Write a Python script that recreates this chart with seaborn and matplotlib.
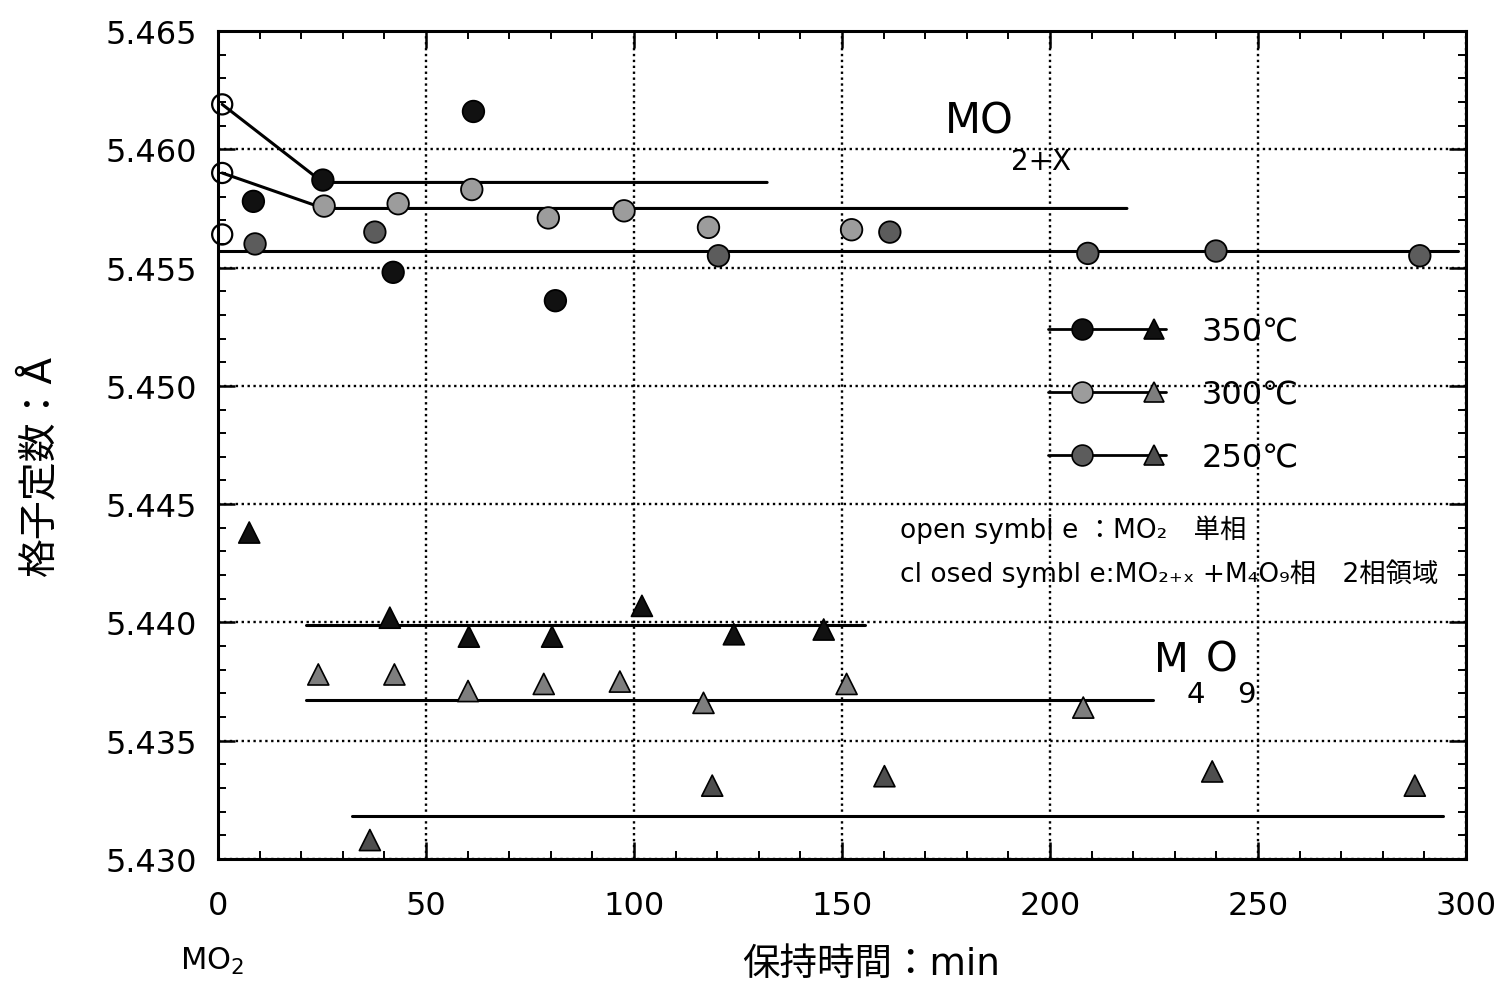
import numpy as np
import pandas as pd
import matplotlib
matplotlib.use("Agg")
import matplotlib.pyplot as plt
import seaborn as sns
from matplotlib.lines import Line2D
from matplotlib.legend_handler import HandlerBase
from matplotlib.ticker import MultipleLocator, FormatStrFormatter
from matplotlib.transforms import blended_transform_factory

# ---------------- data ----------------
temps = ["350℃", "300℃", "250℃"]

open_t = [1, 1, 1]
open_v = [5.4619, 5.4590, 5.4564]

c350_t = [8.5, 25.2, 42.1, 61.4, 81.1]
c350_v = [5.4578, 5.4587, 5.4548, 5.4616, 5.4536]
c300_t = [25.5, 43.3, 61.0, 79.4, 97.6, 117.9, 152.3]
c300_v = [5.4576, 5.4577, 5.4583, 5.4571, 5.4574, 5.4567, 5.4566]
c250_t = [8.9, 37.7, 120.3, 161.5, 209.1, 239.9, 288.9]
c250_v = [5.4560, 5.4565, 5.4555, 5.4565, 5.4556, 5.4557, 5.4555]

t350_t = [7.5, 41.3, 60.3, 80.3, 101.9, 124.0, 145.6]
t350_v = [5.4438, 5.4402, 5.4394, 5.4394, 5.4407, 5.4395, 5.4397]
t300_t = [24.1, 42.4, 60.1, 78.3, 96.6, 116.7, 151.1, 208.0]
t300_v = [5.4378, 5.4378, 5.4371, 5.4374, 5.4375, 5.4366, 5.4374, 5.4364]
t250_t = [36.5, 118.8, 160.2, 239.0, 287.7]
t250_v = [5.4308, 5.4331, 5.4335, 5.4337, 5.4331]

# guide lines (MO2+x level and M4O9 level)
l350c_t = [1, 25.2, 132.0]
l350c_v = [5.4619, 5.4586, 5.4586]
l300c_t = [1, 25.5, 218.5]
l300c_v = [5.4590, 5.4575, 5.4575]
l250c_t = [0, 298.0]
l250c_v = [5.4557, 5.4557]
l350t_t = [21.2, 155.5]
l350t_v = [5.4399, 5.4399]
l300t_t = [21.2, 224.8]
l300t_v = [5.4367, 5.4367]
l250t_t = [32.2, 294.5]
l250t_v = [5.4318, 5.4318]

x_ticks = [0, 50, 100, 150, 200, 250, 300]
y_ticks = [5.430, 5.435, 5.440, 5.445, 5.450, 5.455, 5.460, 5.465]

# ---------------- style ----------------
sns.set_theme(style="ticks")
plt.rcParams["font.family"] = ["DejaVu Sans", "Noto Sans CJK JP"]
plt.rcParams["mathtext.default"] = "regular"
plt.rcParams["text.color"] = "black"
plt.rcParams["axes.labelcolor"] = "black"
plt.rcParams["xtick.color"] = "black"
plt.rcParams["ytick.color"] = "black"
plt.rcParams["xtick.labelcolor"] = "black"
plt.rcParams["ytick.labelcolor"] = "black"

circle_pal = {"350℃": "#111111", "300℃": "#9c9c9c", "250℃": "#5c5c5c"}
tri_pal = {"350℃": "#111111", "300℃": "#7e7e7e", "250℃": "#4e4e4e"}

fig = plt.figure(figsize=(15.11, 9.95), dpi=100)
ax = fig.add_axes([0.1443, 0.1357, 0.8259, 0.8321])

# lines
for tt, vv in [(l350c_t, l350c_v), (l300c_t, l300c_v), (l250c_t, l250c_v),
               (l350t_t, l350t_v), (l300t_t, l300t_v), (l250t_t, l250t_v)]:
    sns.lineplot(x=tt, y=vv, ax=ax, color="black", lw=2.2, sort=False,
                 estimator=None, zorder=2)

# circles
df_c = pd.DataFrame({
    "t": c350_t + c300_t + c250_t,
    "v": c350_v + c300_v + c250_v,
    "temp": [temps[0]] * len(c350_t) + [temps[1]] * len(c300_t) + [temps[2]] * len(c250_t),
})
sns.scatterplot(data=df_c, x="t", y="v", hue="temp", palette=circle_pal, marker="o",
                s=240, edgecolor="black", linewidth=1.3, legend=False, ax=ax, zorder=4)

# triangles
df_t = pd.DataFrame({
    "t": t350_t + t300_t + t250_t,
    "v": t350_v + t300_v + t250_v,
    "temp": [temps[0]] * len(t350_t) + [temps[1]] * len(t300_t) + [temps[2]] * len(t250_t),
})
sns.scatterplot(data=df_t, x="t", y="v", hue="temp", palette=tri_pal, marker="^",
                s=230, edgecolor="black", linewidth=1.2, legend=False, ax=ax, zorder=4)

# open circles (MO2 single phase)
sns.scatterplot(x=open_t, y=open_v, marker="o", s=210, color="black",
                linewidth=1.6, legend=False, ax=ax, zorder=5)
oc = ax.collections[-1]
oc.set_facecolor("none")
oc.set_edgecolor("black")
oc.set_clip_on(False)

# axes
ax.set_xlim(0, 300)
ax.set_ylim(5.430, 5.465)
ax.set_xticks(x_ticks)
ax.set_yticks(y_ticks)
ax.xaxis.set_minor_locator(MultipleLocator(10))
ax.yaxis.set_minor_locator(MultipleLocator(0.001))
ax.yaxis.set_major_formatter(FormatStrFormatter("%.3f"))
ax.tick_params(which="both", direction="in", top=True, right=True, colors="black",
               labelcolor="black")
ax.tick_params(which="major", length=12, width=1.8, labelsize=23)
ax.tick_params(which="minor", length=6, width=1.4)
ax.tick_params(axis="x", which="major", pad=22)
ax.tick_params(axis="y", which="major", pad=15)
ax.grid(which="major", color="black", linestyle=(0, (1, 1.5)), linewidth=1.7)
for sp in ax.spines.values():
    sp.set_linewidth(2.2)
    sp.set_color("black")

ax.set_xlabel("保持時間：min", fontsize=27, color="black")
ax.xaxis.set_label_coords(0.523, -0.105)
ax.set_ylabel("格子定数：Å", fontsize=28, color="black")
ax.yaxis.set_label_coords(-0.128, 0.477)

# annotations
trans_xb = blended_transform_factory(ax.transData, ax.transAxes)
ax.text(-1.4, -0.123, "MO$_2$", transform=trans_xb, ha="center", va="center", fontsize=22)

ax.text(182.9, 5.4612, "MO", fontsize=30, ha="center", va="center")
ax.text(197.8, 5.45949, "2+X", fontsize=20, ha="center", va="center")
ax.text(229.1, 5.43843, "M", fontsize=29, ha="center", va="center")
ax.text(241.3, 5.43843, "O", fontsize=29, ha="center", va="center")
ax.text(235.1, 5.43699, "4", fontsize=21, ha="center", va="center")
ax.text(247.1, 5.43699, "9", fontsize=21, ha="center", va="center")

ax.text(163.9, 5.44398, "open symbl e ：MO₂　単相", fontsize=19, ha="left", va="center",
        family=["DejaVu Sans", "Noto Sans CJK JP"])
ax.text(163.9, 5.44212, "cl osed symbl e:MO₂₊ₓ +M₄O₉相　2相領域", fontsize=19, ha="left",
        va="center", family=["DejaVu Sans", "Noto Sans CJK JP"])


# legend with circle + triangle on one line
class PairHandler(HandlerBase):
    def create_artists(self, legend, orig_handle, xdescent, ydescent, width, height,
                       fontsize, trans):
        circ, tri = orig_handle
        y = height / 2 - ydescent
        x0 = -xdescent
        line = Line2D([x0, x0 + width], [y, y], color="black", lw=2.0)
        m1 = Line2D([x0 + 0.29 * width], [y], linestyle="none", marker="o", markersize=15,
                    markerfacecolor=circ.get_markerfacecolor(), markeredgecolor="black",
                    markeredgewidth=1.2)
        m2 = Line2D([x0 + 0.9 * width], [y], linestyle="none", marker="^", markersize=15,
                    markerfacecolor=tri.get_markerfacecolor(), markeredgecolor="black",
                    markeredgewidth=1.2)
        for a in (line, m1, m2):
            a.set_transform(trans)
        return [line, m1, m2]


handles = []
for tp in temps:
    hc = Line2D([], [], marker="o", markerfacecolor=circle_pal[tp])
    ht = Line2D([], [], marker="^", markerfacecolor=tri_pal[tp])
    handles.append((hc, ht))
leg = ax.legend(handles, temps, handler_map={tuple: PairHandler()}, loc="upper left",
                bbox_to_anchor=(0.665, 0.655), frameon=False, fontsize=23,
                handlelength=3.7, handletextpad=1.1, labelspacing=1.0,
                borderpad=0, borderaxespad=0)
for txt in leg.get_texts():
    txt.set_color("black")

fig.savefig("out.png", dpi=100)
